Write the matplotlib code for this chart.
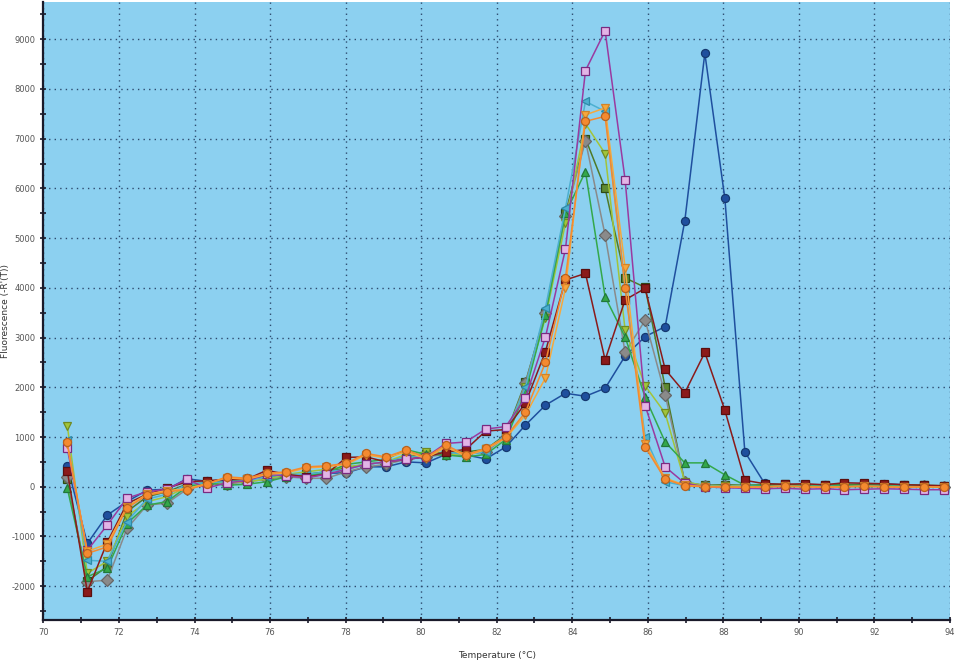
import matplotlib.pyplot as plt
from matplotlib.ticker import MultipleLocator

plt.rcParams['axes.unicode_minus'] = False

# melt curve readings, temperature in degC
temps = [70.63, 71.16, 71.69, 72.21, 72.74, 73.27, 73.80, 74.32, 74.85, 75.38,
         75.91, 76.43, 76.96, 77.49, 78.02, 78.54, 79.07, 79.60, 80.13, 80.65,
         81.18, 81.71, 82.24, 82.76, 83.29, 83.82, 84.35, 84.87, 85.40, 85.93,
         86.46, 86.98, 87.51, 88.04, 88.57, 89.09, 89.62, 90.15, 90.68, 91.20,
         91.73, 92.26, 92.79, 93.31, 93.84]

blue = [420, -1140, -570, -300, -70, -50, 160, 110, 120, 180,
        220, 200, 240, 270, 280, 400, 400, 500, 480, 650,
        640, 560, 800, 1240, 1640, 1880, 1820, 1980, 2630, 3020,
        3220, 5350, 8720, 5800, 700, 70, 30, 20, 40, 30,
        50, 60, 40, 20, 10]
dark_red = [320, -2110, -1110, -340, -150, -30, 100, 120, 150, 150,
            330, 250, 200, 250, 590, 600, 500, 550, 600, 700,
            750, 1120, 1150, 1680, 2720, 4160, 4290, 2550, 3760, 3990,
            2360, 1890, 2700, 1540, 130, 60, 50, 60, 40, 80,
            70, 60, 40, 30, 20]
magenta = [770, -1280, -770, -230, -100, -50, 150, -30, 80, 120,
           250, 220, 180, 250, 350, 450, 500, 550, 600, 870,
           900, 1160, 1210, 1790, 3010, 4780, 8370, 9170, 6170, 1630,
           400, 70, 0, -20, -30, -40, -30, -50, -40, -60,
           -50, -40, -50, -60, -60]
orange_tri = [850, -1300, -1150, -400, -150, -80, -40, 60, 180, 150,
              250, 280, 380, 400, 450, 640, 580, 700, 570, 800,
              620, 750, 980, 1440, 2190, 3990, 7480, 7620, 4400, 860,
              175, 30, 0, 0, -10, 0, 10, 0, -10, 0,
              10, 0, -10, 0, -10]
orange = [890, -1340, -1210, -430, -170, -100, -60, 50, 200, 170,
          270, 300, 400, 420, 470, 670, 600, 740, 590, 840,
          640, 770, 1000, 1500, 2500, 4200, 7350, 7450, 4000, 800,
          150, 20, 0, 0, -10, 0, 10, 0, -10, 0,
          10, 0, -10, 0, -10]
green = [-30, -1810, -1640, -740, -370, -300, 0, 80, 30, 50,
         100, 200, 230, 280, 450, 500, 550, 745, 650, 640,
         600, 650, 950, 1900, 3450, 5500, 6340, 3820, 3010, 1800,
         900, 480, 480, 240, 30, 20, 30, 10, 20, 30,
         20, 10, 20, 10, 0]
gray = [200, -1910, -1880, -840, -370, -330, -50, 50, 50, 100,
        150, 200, 170, 170, 300, 400, 450, 550, 600, 650,
        650, 700, 1000, 2080, 3500, 5450, 6960, 5060, 2700, 3350,
        1850, 100, 20, 10, 20, 0, 10, 20, 0, 10,
        20, 10, 0, 10, 0]
cyan = [950, -1480, -1500, -700, -250, -150, 50, 80, 100, 120,
        200, 250, 250, 300, 350, 450, 500, 600, 600, 700,
        650, 700, 1050, 2000, 3600, 5600, 7750, 7550, 4000, 1000,
        100, 20, 10, 0, 10, 0, 10, 0, 10, 0,
        10, 0, 10, 0, 0]
yellow_green = [1230, -1740, -1500, -600, -300, -200, 0, 60, 80, 100,
                150, 250, 300, 350, 400, 450, 500, 650, 700, 650,
                650, 750, 1000, 2000, 3400, 5300, 7300, 6700, 3150, 2030,
                1480, 100, 20, 10, 20, 10, 0, 10, 20, 10,
                0, 10, 20, 10, 0]
olive = [150, -1900, -1600, -500, -200, -100, 50, 80, 100, 150,
         200, 220, 250, 300, 380, 450, 500, 600, 650, 700,
         700, 750, 1050, 2100, 3490, 5510, 7000, 6000, 4200, 4010,
         2000, 80, 30, 40, 30, 40, 50, 30, 40, 50,
         40, 30, 40, 30, 20]

series = [
    (blue, '#1f4f9e', '#15386f', '#1f4f9e', 'o'),
    (olive, '#4f7a28', '#2e4a16', '#5f8a30', 's'),
    (gray, '#8a8a8a', '#666666', '#8a8a8a', 'D'),
    (yellow_green, '#a2c43a', '#6f8a22', '#a2c43a', 'v'),
    (green, '#34a84a', '#22783a', '#34a84a', '^'),
    (cyan, '#4cb0d0', '#2d8aa8', '#4cb0d0', '<'),
    (dark_red, '#8b1a1a', '#5a0e0e', '#8b1a1a', 's'),
    (magenta, '#9a3aa0', '#7a2a80', '#e2b4e6', 's'),
    (orange_tri, '#f6a83c', '#d0842a', '#f6a83c', 'v'),
    (orange, '#f48a30', '#b8621e', '#f48a30', 'o'),
]

fig = plt.figure(figsize=(9.58, 6.64), dpi=100)
ax = fig.add_axes([0.0454, 0.0663, 0.9462, 0.9307])
ax.set_facecolor('#8cd0f0')

for vals, col, edge, face, mk in series:
    ax.plot(temps, vals, color=col, lw=1.1, marker=mk, ms=5.8,
            mfc=face, mec=edge, mew=0.9)

ax.set_xlim(70, 94)
ax.set_ylim(-2680, 9750)
ax.xaxis.set_major_locator(MultipleLocator(2))
ax.xaxis.set_minor_locator(MultipleLocator(1))
ax.yaxis.set_major_locator(MultipleLocator(1000))
ax.yaxis.set_minor_locator(MultipleLocator(500))
ax.grid(True, which='major', color='#2c4a6e', linestyle=(0, (1, 3)), lw=1.0)

for s in ['top', 'right']:
    ax.spines[s].set_visible(False)
for s in ['left', 'bottom']:
    ax.spines[s].set_linewidth(1.6)
    ax.spines[s].set_color('#1a1a2a')

ax.tick_params(which='both', direction='inout', color='#1a1a2a')
ax.tick_params(which='major', length=5, width=1.2, labelsize=6, labelcolor='#555555')
ax.tick_params(which='minor', length=4, width=1.2)

ax.set_xlabel('Temperature (°C)', fontsize=6.5, color='#333333')
ax.xaxis.set_label_coords(0.5, -0.05)
ax.set_ylabel("Fluorescence (-R'(T))", fontsize=6.5, color='#333333')
ax.yaxis.set_label_coords(-0.037, 0.5)

fig.savefig('out.png', dpi=100)
